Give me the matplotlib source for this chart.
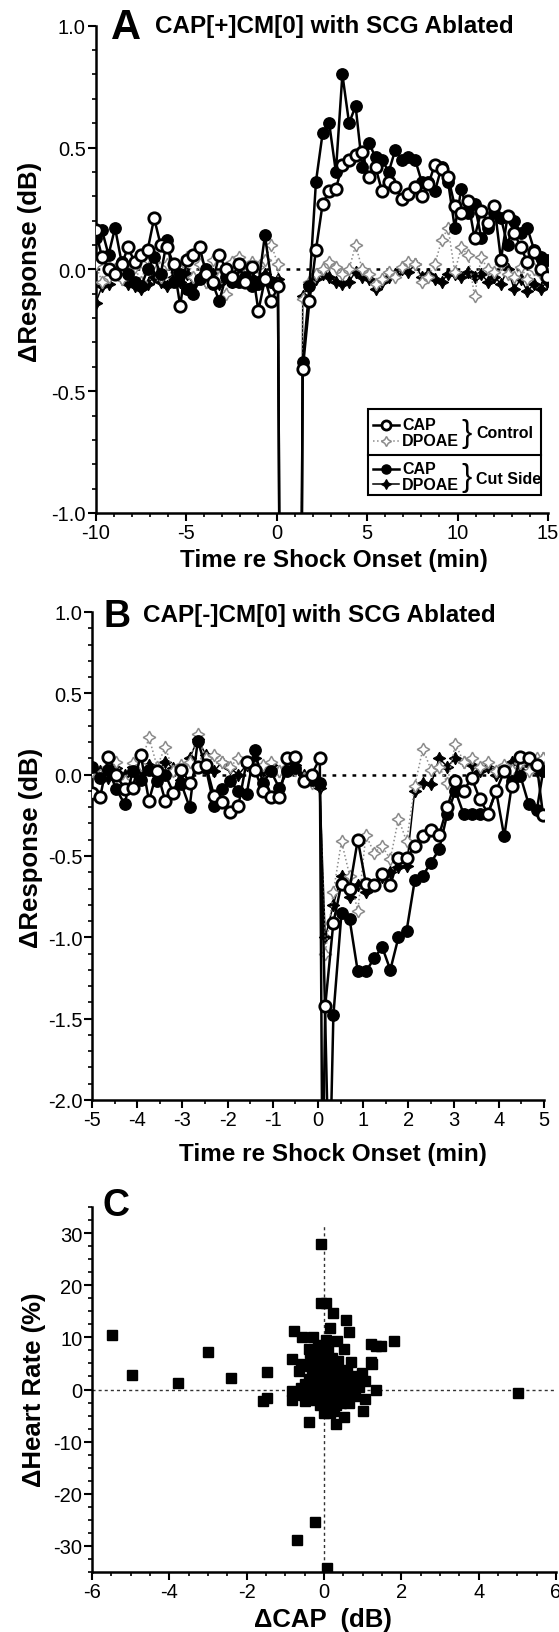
import numpy as np
import matplotlib
matplotlib.use('Agg')
import matplotlib.pyplot as plt
from matplotlib.ticker import MultipleLocator, FixedLocator, FormatStrFormatter
from matplotlib.lines import Line2D
from matplotlib.patches import Rectangle

plt.rcParams['font.family'] = ['Liberation Sans', 'DejaVu Sans']
plt.rcParams['axes.unicode_minus'] = False

# ---------------- Panel A data ----------------
tA = [-10.0, -9.64, -9.28, -8.92, -8.56, -8.2, -7.84, -7.48, -7.12, -6.76,
      -6.4, -6.04, -5.68, -5.32, -4.96, -4.6, -4.24, -3.88, -3.52, -3.16,
      -2.8, -2.44, -2.08, -1.72, -1.36, -1.0, -0.64, -0.28, 0.08,
      0.3, 1.25,
      1.45, 1.82, 2.18, 2.55, 2.91, 3.28, 3.64, 4.01, 4.37, 4.74,
      5.10, 5.47, 5.83, 6.20, 6.56, 6.93, 7.29, 7.66, 8.02, 8.39,
      8.75, 9.12, 9.48, 9.85, 10.21, 10.58, 10.94, 11.31, 11.67, 12.04,
      12.40, 12.77, 13.13, 13.50, 13.86, 14.23, 14.59, 14.96]

capA_ctrl = [0.16, 0.05, 0.0, -0.02, 0.02, 0.09, 0.03, 0.06, 0.08, 0.21,
             0.10, 0.09, 0.02, -0.15, 0.04, 0.06, 0.09, -0.02, -0.05, 0.06,
             0.0, -0.03, 0.02, -0.05, 0.01, -0.17, -0.04, -0.13, -0.07,
             -3.0, -3.0,
             -0.41, -0.13, 0.08, 0.27, 0.32, 0.33, 0.43, 0.45, 0.47, 0.48,
             0.38, 0.42, 0.32, 0.36, 0.34, 0.29, 0.31, 0.34, 0.30, 0.35,
             0.43, 0.41, 0.38, 0.26, 0.23, 0.28, 0.13, 0.24, 0.19, 0.26,
             0.04, 0.22, 0.15, 0.09, 0.03, 0.07, 0.0, -0.03]

capA_cut = [0.13, 0.16, 0.06, 0.17, 0.03, -0.02, -0.05, -0.07, 0.0, 0.05,
            -0.02, 0.12, -0.05, -0.02, -0.08, -0.10, -0.04, 0.0, -0.06, -0.13,
            -0.03, -0.05, -0.05, -0.03, -0.07, -0.06, 0.14, -0.05, -0.07,
            -3.0, -3.0,
            -0.38, -0.07, 0.36, 0.56, 0.60, 0.40, 0.80, 0.60, 0.67, 0.42,
            0.52, 0.46, 0.45, 0.40, 0.49, 0.45, 0.46, 0.45, 0.36, 0.36,
            0.32, 0.42, 0.36, 0.17, 0.33, 0.23, 0.27, 0.13, 0.17, 0.23,
            0.21, 0.10, 0.20, 0.15, 0.17, 0.08, 0.05, 0.04]

dpA_ctrl = [0.02, -0.05, -0.03, 0.0, -0.04, -0.02, 0.01, -0.05, 0.04, 0.03,
            -0.03, 0.02, -0.04, 0.0, 0.05, -0.03, 0.02, -0.05, 0.04, -0.03,
            -0.10, 0.03, 0.05, -0.02, 0.03, 0.01, 0.04, 0.10, 0.02,
            -3.0, -3.0,
            -0.12, -0.05, -0.02, 0.0, 0.03, 0.01, -0.02, 0.0, 0.10, 0.0,
            -0.02, -0.06, -0.04, -0.01, -0.03, 0.01, 0.03, 0.02, -0.05, -0.03,
            0.02, 0.12, 0.17, -0.01, 0.09, 0.06, -0.11, 0.05, 0.0, -0.01,
            0.02, -0.02, -0.03, 0.01, -0.04, 0.0, -0.02, -0.02]

dpA_cut = [-0.14, -0.07, -0.06, -0.02, -0.04, -0.06, -0.07, -0.08, -0.06, -0.03,
           -0.05, -0.07, -0.03, -0.05, -0.02, -0.06, -0.03, -0.05, -0.02, -0.06,
           -0.03, -0.05, -0.02, -0.05, -0.03, -0.05, -0.02, -0.05, -0.04,
           -3.0, -3.0,
           -0.11, -0.06, -0.04, -0.02, -0.03, -0.05, -0.06, -0.05, -0.01, -0.03,
           -0.04, -0.08, -0.05, -0.03, -0.02, 0.0, -0.01, 0.02, -0.03, -0.02,
           -0.04, -0.05, -0.02, -0.02, -0.03, -0.01, -0.03, -0.02, -0.05, -0.03,
           -0.06, 0.0, -0.08, -0.04, -0.09, -0.06, -0.08, -0.05]

# ---------------- Panel B data ----------------
nan = np.nan
tB = [-5.0, -4.82, -4.64, -4.46, -4.28, -4.1, -3.92, -3.74, -3.56, -3.38,
      -3.2, -3.02, -2.84, -2.66, -2.48, -2.3, -2.12, -1.94, -1.76, -1.58,
      -1.4, -1.22, -1.04, -0.86, -0.68, -0.5, -0.32, -0.14, 0.04,
      0.10, 0.16, 0.25, 0.34,
      0.52, 0.70, 0.88, 1.06, 1.24, 1.42, 1.60, 1.78, 1.96, 2.14,
      2.32, 2.50, 2.68, 2.86, 3.04, 3.22, 3.40, 3.58, 3.76, 3.94,
      4.12, 4.30, 4.48, 4.66, 4.84, 4.98]

capB_ctrl = [-0.11, -0.14, 0.11, 0.0, -0.09, -0.08, 0.12, -0.16, 0.02, -0.16,
             -0.11, 0.03, -0.05, 0.05, 0.06, -0.13, -0.17, -0.23, -0.19, 0.08,
             0.03, -0.10, -0.14, -0.14, 0.10, 0.11, -0.04, 0.0, 0.10,
             -2.6, -1.42, nan, -0.91,
             -0.67, -0.70, -0.40, -0.67, -0.68, -0.61, -0.68, -0.51, -0.51, -0.44,
             -0.38, -0.34, -0.37, -0.20, -0.04, -0.10, -0.02, -0.15, -0.24, -0.10,
             0.02, -0.07, 0.11, 0.10, 0.06, -0.25]

capB_cut = [0.05, -0.02, 0.03, -0.09, -0.18, 0.02, -0.03, 0.03, -0.04, 0.0,
            -0.11, -0.06, -0.20, 0.21, 0.04, -0.19, -0.09, -0.04, -0.10, -0.12,
            0.15, -0.05, 0.02, -0.08, 0.02, 0.04, -0.04, -0.03, -0.05,
            nan, nan, -2.6, -1.48,
            -0.85, -0.89, -1.21, -1.21, -1.13, -1.06, -1.20, -1.00, -0.96, -0.65,
            -0.62, -0.54, -0.46, -0.24, -0.10, -0.24, -0.24, -0.24, -0.24, -0.10,
            -0.38, -0.04, -0.01, -0.18, -0.22, 0.02]

dpB_ctrl = [0.02, 0.0, 0.05, 0.08, -0.04, 0.07, 0.06, 0.23, 0.05, 0.17,
            0.02, 0.06, 0.08, 0.25, 0.10, 0.12, 0.08, 0.05, 0.10, 0.07,
            0.04, 0.06, 0.08, 0.02, 0.05, 0.03, -0.02, -0.05, -0.06,
            nan, -1.1, nan, -0.72,
            -0.41, -0.62, -0.84, -0.37, -0.48, -0.44, -0.52, -0.27, -0.41, -0.07,
            0.16, 0.03, 0.05, -0.05, 0.19, 0.08, 0.10, 0.05, 0.08, 0.02,
            0.06, 0.03, 0.07, 0.02, 0.10, 0.10]

dpB_cut = [0.03, 0.02, -0.02, 0.04, 0.0, 0.05, 0.02, 0.06, 0.0, 0.08,
           0.04, -0.03, 0.10, 0.22, 0.12, 0.02, 0.08, 0.04, 0.0, 0.06,
           0.10, 0.03, 0.06, 0.02, 0.03, 0.06, 0.0, -0.02, -0.08,
           nan, -1.0, nan, -0.80,
           -0.62, -0.75, -0.68, -0.72, -0.68, -0.63, -0.60, -0.57, -0.56, -0.10,
           -0.05, -0.06, 0.10, 0.05, 0.10, 0.08, 0.06, 0.02, 0.05, 0.0,
           0.05, 0.08, 0.03, 0.06, 0.02, 0.10]

# ---------------- Panel C data ----------------
dcapC = [-5.47, -4.97, -3.77, -2.99, -2.41, -1.48, -1.58, -1.48, 5.03,
         -0.08, -0.08, 0.06, 0.24, 0.56, 0.65, 0.15, -0.77, -0.56, -0.29, 0.33,
         0.52, 1.21, 1.35, 1.47, 1.81, -0.82, -0.59, -0.65, 1.21, 1.25,
         0.70, 0.98, 1.07, 1.35, 1.07, 1.00, 0.53, 0.30, -0.40, 0.79,
         -0.82, -0.82, -0.50, -0.22, -0.70, 0.08, -0.40, -0.36,
         -0.3, -0.2, -0.1, 0.0, 0.1, 0.2, 0.3, 0.4, 0.5, 0.6,
         0.5, 0.4, 0.3, 0.2, 0.1, 0.0, -0.1, -0.2, -0.3, -0.4,
         -0.5, -0.4, -0.3, -0.2, -0.1, 0.0, 0.1, 0.2, 0.1, 0.2,
         0.3, 0.0, -0.1, -0.2, 0.05, 0.25, 0.35, -0.25, 0.15, 0.45,
         -0.05, 0.3, 0.55, 0.7, 0.75, 0.6, -0.55, -0.6, 0.15, 0.25,
         -0.05, 0.1, 0.35, -0.35, 0.45, 0.8, 0.65, 0.9, -0.15, 0.05]
dhrC = [10.5, 2.8, 1.3, 7.2, 2.3, 3.3, -2.3, -1.6, -0.6,
        28.0, 16.6, 16.6, 14.7, 13.4, 11.1, 11.7, 11.3, 10.1, 10.1, 9.3,
        7.8, 8.7, 8.3, 8.4, 9.3, 5.9, 4.9, 3.6, 5.2, 4.9,
        5.2, 3.1, 1.6, 0.0, -1.8, -4.2, -5.3, -6.7, -6.2, -1.3,
        -2.0, -0.2, -2.3, -25.5, -28.8, -34.3, 7.8, 7.0,
        5.0, 6.0, 7.0, 6.5, 5.5, 6.0, 4.5, 3.5, 2.5, 1.5,
        0.5, -0.5, -1.5, -2.5, -3.5, -4.5, -3.0, -2.0, -1.0, 0.0,
        1.0, 2.0, 3.0, 4.0, 2.5, 1.5, 0.5, -0.5, 3.0, 2.0,
        1.0, -1.0, 0.0, 1.0, 4.2, 3.2, 2.2, -0.4, -1.2, 1.3,
        -2.2, -3.0, -1.5, 0.2, 2.5, 3.8, -1.0, 0.3, -4.6, -4.2,
        5.5, 7.3, 5.5, 4.5, -2.5, 1.2, -2.5, 0.5, 8.5, 9.5]

# ---------------- figure ----------------
W, H = 559, 1633
fig = plt.figure(figsize=(W / 100, H / 100), dpi=100)
fig.patch.set_facecolor('white')


def fx(x):
    return x / W


def fy(y):
    return 1 - y / H


def make_axes(l, t, r, b):
    return fig.add_axes([fx(l), fy(b), (r - l) / W, (b - t) / H])


def style(ax):
    for s in ['top', 'right']:
        ax.spines[s].set_visible(False)
    for s in ['left', 'bottom']:
        ax.spines[s].set_linewidth(1.8)
    ax.tick_params(which='major', direction='out', length=6, width=1.5,
                   labelsize=14.5, pad=1)
    ax.tick_params(which='minor', direction='out', length=3, width=1.2)
    ax.set_facecolor('none')


GRAY = '#8c8c8c'
STAR = (4, 1, 0)
sty_cap_ctrl = dict(color='k', lw=1.8, marker='o', ms=8.2, mfc='white', mec='k', mew=2.0, zorder=5)
sty_cap_cut = dict(color='k', lw=1.8, marker='o', ms=8.2, mfc='k', mec='k', zorder=4)
sty_dp_ctrl = dict(color=GRAY, lw=1.1, ls=':', marker=STAR, ms=9, mfc='white', mec=GRAY, mew=1.1, zorder=3)
sty_dp_cut = dict(color='k', lw=1.1, marker=STAR, ms=9, mfc='k', mec='k', mew=0.8, zorder=2)


def series(ax, t, v, sty):
    t = np.asarray(t, float)
    v = np.asarray(v, float)
    m = ~np.isnan(v)
    ax.plot(t[m], v[m], **sty)


# ----- Panel A -----
axA = make_axes(95.5, 26.7, 548, 514)
style(axA)
axA.axhline(0, color='k', ls=(0, (1.5, 2.5)), lw=1.8, zorder=1)
series(axA, tA, dpA_cut, sty_dp_cut)
series(axA, tA, dpA_ctrl, sty_dp_ctrl)
series(axA, tA, capA_cut, sty_cap_cut)
series(axA, tA, capA_ctrl, sty_cap_ctrl)
axA.set_xlim(-10, 15)
axA.set_ylim(-1, 1)
axA.xaxis.set_major_locator(MultipleLocator(5))
axA.xaxis.set_minor_locator(MultipleLocator(1))
axA.yaxis.set_major_locator(MultipleLocator(0.5))
axA.yaxis.set_minor_locator(MultipleLocator(0.1))
axA.yaxis.set_major_formatter(FormatStrFormatter('%.1f'))

# ----- Panel B -----
axB = make_axes(92, 613, 544, 1101)
style(axB)
axB.axhline(0, color='k', ls=(0, (1.5, 2.5)), lw=1.8, zorder=1)
series(axB, tB, dpB_cut, sty_dp_cut)
series(axB, tB, dpB_ctrl, sty_dp_ctrl)
series(axB, tB, capB_cut, sty_cap_cut)
series(axB, tB, capB_ctrl, sty_cap_ctrl)
axB.set_xlim(-5, 5)
axB.set_ylim(-2, 1)
axB.xaxis.set_major_locator(MultipleLocator(1))
axB.xaxis.set_minor_locator(MultipleLocator(0.5))
axB.yaxis.set_major_locator(MultipleLocator(0.5))
axB.yaxis.set_minor_locator(MultipleLocator(0.1))
axB.yaxis.set_major_formatter(FormatStrFormatter('%.1f'))

# ----- Panel C -----
axC = make_axes(92, 1208, 556, 1573)
style(axC)
axC.plot([-6, 6], [0, 0], color='#333333', ls=(0, (2.2, 2.2)), lw=1.0, zorder=1)
axC.plot([0, 0], [-35, 31.5], color='#333333', ls=(0, (2.2, 2.2)), lw=1.0, zorder=1)
axC.plot(dcapC, dhrC, 's', color='k', ms=7, zorder=3)
axC.set_xlim(-6, 6)
axC.set_ylim(-35, 35)
axC.xaxis.set_major_locator(MultipleLocator(2))
axC.xaxis.set_minor_locator(MultipleLocator(0.5))
axC.yaxis.set_major_locator(FixedLocator([-30, -20, -10, 0, 10, 20, 30]))
axC.yaxis.set_minor_locator(MultipleLocator(2.5))

# ----- texts -----
def ftext(x, y, s, **kw):
    fig.text(fx(x), fy(y), s, **kw)


xlab = dict(fontsize=17.5, fontweight='bold', ha='center', va='center')
ylab = dict(fontsize=18.5, fontweight='bold', ha='center', va='center', rotation=90)
ftext(30, 262, '\u0394Response (dB)', **ylab)
ftext(334, 561, 'Time re Shock Onset (min)', **xlab)
ftext(31, 848, '\u0394Response (dB)', **ylab)
ftext(333, 1155, 'Time re Shock Onset (min)', **xlab)
ftext(34, 1390, '\u0394Heart Rate (%)', **ylab)
ftext(323, 1620, '\u0394CAP  (dB)', fontsize=18.5, fontweight='bold', ha='center', va='center')

ftext(111, 28, 'A', fontsize=30, fontweight='bold', ha='left', va='center')
ftext(155, 27, 'CAP[+]CM[0] with SCG Ablated', fontsize=17.5, fontweight='bold', ha='left', va='center')
ftext(104, 617, 'B', fontsize=27, fontweight='bold', ha='left', va='center')
ftext(143, 616, 'CAP[-]CM[0] with SCG Ablated', fontsize=17.5, fontweight='bold', ha='left', va='center')
ftext(102, 1206, 'C', fontsize=27, fontweight='bold', ha='left', va='center')

# ----- legend in panel A -----
fig.add_artist(Rectangle((fx(368), fy(496)), (541 - 368) / W, (496 - 410) / H,
                         transform=fig.transFigure, facecolor='white',
                         edgecolor='k', lw=1.5, zorder=6))
fig.add_artist(Line2D([fx(368), fx(541)], [fy(456), fy(456)],
                      transform=fig.transFigure, color='k', lw=1.5, zorder=7))

leg_rows = [(426, 'CAP', sty_cap_ctrl), (442, 'DPOAE', sty_dp_ctrl),
            (470, 'CAP', sty_cap_cut), (485, 'DPOAE', sty_dp_cut)]
for y, s, sty in leg_rows:
    st = dict(sty)
    st['ms'] = st['ms'] * 0.8
    st['zorder'] = 8
    fig.add_artist(Line2D([fx(373), fx(385.5), fx(399)], [fy(y)] * 3,
                          transform=fig.transFigure, markevery=[1], **st))
    ftext(402, y, s, fontsize=11.5, fontweight='bold', ha='left', va='center', zorder=9)

ftext(461, 434, '}', fontsize=22, ha='left', va='center', zorder=9)
ftext(476, 434, 'Control', fontsize=11.5, fontweight='bold', ha='left', va='center', zorder=9)
ftext(461, 478, '}', fontsize=22, ha='left', va='center', zorder=9)
ftext(476, 479, 'Cut Side', fontsize=11.5, fontweight='bold', ha='left', va='center', zorder=9)

fig.savefig('out.png', dpi=100, facecolor='white')
